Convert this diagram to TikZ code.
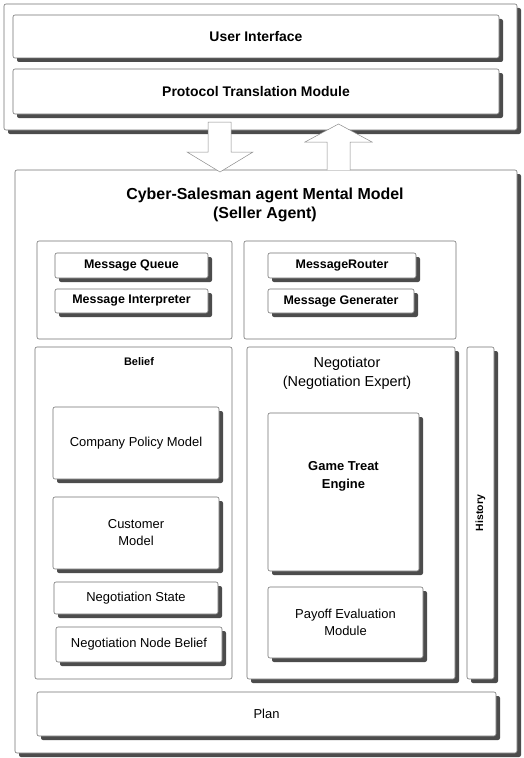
\documentclass[tikz,border=0pt]{standalone}
\usepackage{fontspec}
\setmainfont{Liberation Sans}
\usetikzlibrary{fit,shadows}
\begin{document}
\begin{tikzpicture}[x=1bp,y=-1bp,
  frame/.style={draw=black!55, line width=0.6bp, fill=white, rounded corners=2bp, inner sep=0pt},
  sbox/.style={frame, drop shadow={shadow xshift=4bp, shadow yshift=-4bp, fill=black!70, opacity=1}},
  lbl/.style={font=\fontsize{13}{17}\selectfont, align=center, inner sep=0pt},
  blbl/.style={font=\bfseries\fontsize{13}{18}\selectfont, align=center, inner sep=0pt},
  mlbl/.style={font=\bfseries\fontsize{12.5}{15}\selectfont, align=center, inner sep=0pt},
  tlbl/.style={font=\bfseries\fontsize{14}{17}\selectfont, align=center, inner sep=0pt},
  arr/.style={draw=black!45, line width=0.5bp, fill=white}]
\useasboundingbox (0,0) rectangle (524,758);

% top group
\node[sbox, fit={(4,4) (517,130)}] (top) {};
\node[sbox, fit={(13,15) (499,58)}] (ui) {};
\node[tlbl] (uitxt) at (ui.center) {User Interface};
\node[sbox, fit={(13,69) (499,114)}] (ptm) {};
\node[tlbl] (ptmtxt) at (ptm.center) {Protocol Translation Module};

% mental model
\node[sbox, fit={(15,170) (517,753)}] (mm) {};
\node[font=\bfseries\fontsize{16}{19.5}\selectfont, align=center, inner sep=0pt] (title) at (265,205)
  {Cyber-Salesman agent Mental Model\\(Seller Agent)};

% block arrows
\coordinate (utop) at (338.5,124);
\filldraw[arr] (208,122) -- (231,122) -- (231,152) -- (253,152) -- (220,172)
  -- (187,152) -- (208,152) -- cycle;
\filldraw[arr] (327,170) -- (327,142) -- (305,142) -- (utop) -- (372,142)
  -- (350,142) -- (350,170);

% message containers
\node[frame, fit={(37,241) (232,339)}] (lc) {};
\node[frame, fit={(244,241) (456,339)}] (rc) {};
\node[sbox, fit={(55,253) (208,278)}] (mq) {};
\node[mlbl] (mqtxt) at (mq.center) {Message Queue};
\node[sbox, fit={(55,289) (208,313)}] (mi) {};
\node[mlbl] (mitxt) at (mi.center) {Message Interpreter};
\node[sbox, fit={(268,253) (416,278)}] (mr) {};
\node[mlbl] (mrtxt) at (mr.center) {MessageRouter};
\node[sbox, fit={(268,289) (414,313)}] (mg) {};
\node[mlbl] (mgtxt) at (mg.center) {Message Generater};

% belief
\node[frame, fit={(35,347) (232,679)}] (bel) {};
\node[font=\bfseries\fontsize{11}{13}\selectfont, inner sep=0pt] (beltxt) at (139,362) {Belief};
\node[sbox, fit={(53,407) (219,479)}] (cpm) {};
\node[lbl] (cpmtxt) at (cpm.center) {Company Policy Model};
\node[sbox, fit={(53,497) (219,569)}] (cm) {};
\node[lbl] (cmtxt) at (cm.center) {Customer\\Model};
\node[sbox, fit={(54,582) (218,614)}] (ns) {};
\node[lbl] (nstxt) at (ns.center) {Negotiation State};
\node[sbox, fit={(56,627) (222,662)}] (nnb) {};
\node[lbl] (nnbtxt) at (nnb.center) {Negotiation Node Belief};

% negotiator
\node[sbox, fit={(247,347) (455,679)}] (neg) {};
\node[font=\fontsize{14.5}{19}\selectfont, align=center, inner sep=0pt] (negtxt) at (347,373)
  {Negotiator\\(Negotiation Expert)};
\node[sbox, fit={(268,413) (419,571)}] (gte) {};
\node[blbl] (gtetxt) at (343.5,476) {Game Treat\\Engine};
\node[sbox, fit={(268,587) (423,658)}] (pem) {};
\node[lbl] (pemtxt) at (pem.center) {Payoff Evaluation\\Module};

% history
\node[sbox, fit={(467,347) (494,679)}] (hist) {};
\node[font=\bfseries\fontsize{10.5}{12}\selectfont, rotate=90, inner sep=0pt] (histtxt) at (480.5,513) {History};

% plan
\node[sbox, fit={(37,692) (496,736)}] (plan) {};
\node[lbl] (plantxt) at (plan.center) {Plan};
\end{tikzpicture}
\end{document}
